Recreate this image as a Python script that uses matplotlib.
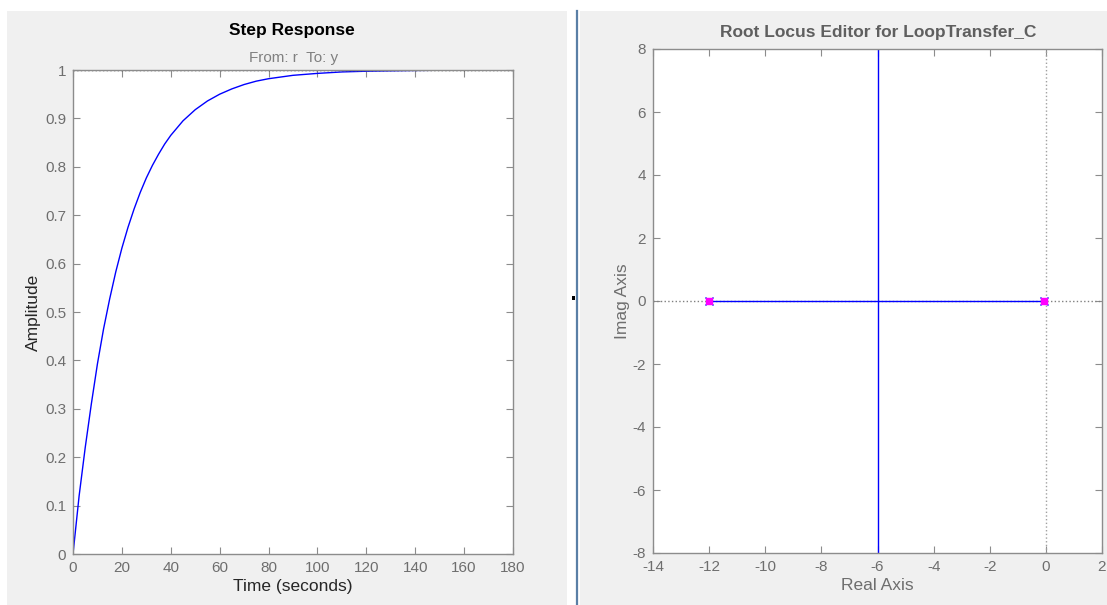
import matplotlib
matplotlib.use("Agg")
import matplotlib.pyplot as plt
from matplotlib.patches import Rectangle
from matplotlib.lines import Line2D

plt.rcParams['font.family'] = ['Liberation Sans', 'DejaVu Sans']
plt.rcParams['axes.unicode_minus'] = False

# step response
t_step = [0, 2.5, 5, 7.5, 10, 12.5, 15, 17.5, 20, 22.5, 25, 27.5, 30, 32.5, 35, 37.5,
          40, 45, 50, 55, 60, 65, 70, 75, 80, 90, 100, 110, 120, 140, 160, 180]
y_step = [0, 0.12, 0.22, 0.31, 0.393, 0.465, 0.527, 0.583, 0.632, 0.675, 0.713, 0.747,
          0.777, 0.803, 0.826, 0.847, 0.865, 0.895, 0.918, 0.936, 0.95, 0.961, 0.97,
          0.977, 0.982, 0.989, 0.993, 0.996, 0.9975, 0.999, 1.0, 1.0]
t_ticks = [0, 20, 40, 60, 80, 100, 120, 140, 160, 180]
amp_ticks = [0, 0.1, 0.2, 0.3, 0.4, 0.5, 0.6, 0.7, 0.8, 0.9, 1]
amp_labels = ['0', '0.1', '0.2', '0.3', '0.4', '0.5', '0.6', '0.7', '0.8', '0.9', '1']

# root locus branches and closed-loop poles
real_branch = [-12, 0]
imag_branch = [0, 0]
vert_real = [-6, -6]
vert_imag = [-8, 8]
poles_re = [-12, -0.05]
poles_im = [0, 0]
re_ticks = [-14, -12, -10, -8, -6, -4, -2, 0, 2]
im_ticks = [-8, -6, -4, -2, 0, 2, 4, 6, 8]

gray_txt = '#6e6e6e'
spine_col = '#8c8c8c'
blue = '#0000ff'

fig = plt.figure(figsize=(11.07, 6.05), dpi=100)
fig.patch.set_facecolor('white')
fig.patches.append(Rectangle((7 / 1107, 0), 560 / 1107, 594 / 605, transform=fig.transFigure,
                             facecolor='#f0f0f0', edgecolor='none', zorder=-10))
fig.patches.append(Rectangle((580 / 1107, 0), 527 / 1107, 594 / 605, transform=fig.transFigure,
                             facecolor='#f0f0f0', edgecolor='none', zorder=-10))
fig.lines.append(Line2D([577 / 1107, 577 / 1107], [0, 594 / 605], transform=fig.transFigure,
                        color='#5a7fa6', lw=1.6))
fig.patches.append(Rectangle((572 / 1107, 305 / 605), 3 / 1107, 4 / 605, transform=fig.transFigure,
                             facecolor='black', edgecolor='none'))


def style(ax):
    ax.set_facecolor('white')
    for s in ax.spines.values():
        s.set_color(spine_col)
        s.set_linewidth(1.0)
    ax.tick_params(direction='in', top=True, right=True, colors=spine_col,
                   labelcolor=gray_txt, labelsize=11, length=5, pad=5)


# left: step response
ax1 = fig.add_axes([73 / 1107, 51 / 605, 440 / 1107, 484 / 605])
style(ax1)
ax1.plot(t_step, y_step, color=blue, lw=1.0)
ax1.axhline(1, color='black', ls=':', lw=1.0)
ax1.set_xlim(0, 180)
ax1.set_ylim(0, 1)
ax1.set_xticks(t_ticks)
ax1.set_yticks(amp_ticks)
ax1.set_yticklabels(amp_labels)
ax1.set_xlabel('Time (seconds)', fontsize=12.5, color='#262626', labelpad=3)
ax1.set_ylabel('Amplitude', fontsize=12.5, color='#262626', labelpad=3)
fig.text(294 / 1107, 1 - 58 / 605, 'From: r  To: y', ha='center', va='center',
         fontsize=11, color='#808080')
fig.text(292 / 1107, 1 - 30 / 605, 'Step Response', ha='center', va='center',
         fontsize=12.5, fontweight='bold', color='black')

# right: root locus
ax2 = fig.add_axes([653 / 1107, 52 / 605, 449 / 1107, 504 / 605])
style(ax2)
ax2.axhline(0, color='#808080', ls=':', lw=1.0)
ax2.axvline(0, color='#a0a0a0', ls=':', lw=1.0)
ax2.plot(real_branch, imag_branch, color=blue, lw=1.0)
ax2.plot(vert_real, vert_imag, color=blue, lw=1.0)
ax2.plot(poles_re, poles_im, 'x', color=blue, ms=6, mew=1.0)
ax2.plot(poles_re, poles_im, 's', color='#ff00ff', ms=5, mec='#ff00ff')
ax2.set_xlim(-14, 2)
ax2.set_ylim(-8, 8)
ax2.set_xticks(re_ticks)
ax2.set_yticks(im_ticks)
ax2.set_xlabel('Real Axis', fontsize=12.5, color=gray_txt, labelpad=3)
ax2.set_ylabel('Imag Axis', fontsize=12.5, color=gray_txt, labelpad=2)
fig.text(878 / 1107, 1 - 32 / 605, 'Root Locus Editor for LoopTransfer_C', ha='center',
         va='center', fontsize=12.5, fontweight='bold', color='#5f5f5f')

fig.savefig('out.png', dpi=100, facecolor=fig.get_facecolor())
